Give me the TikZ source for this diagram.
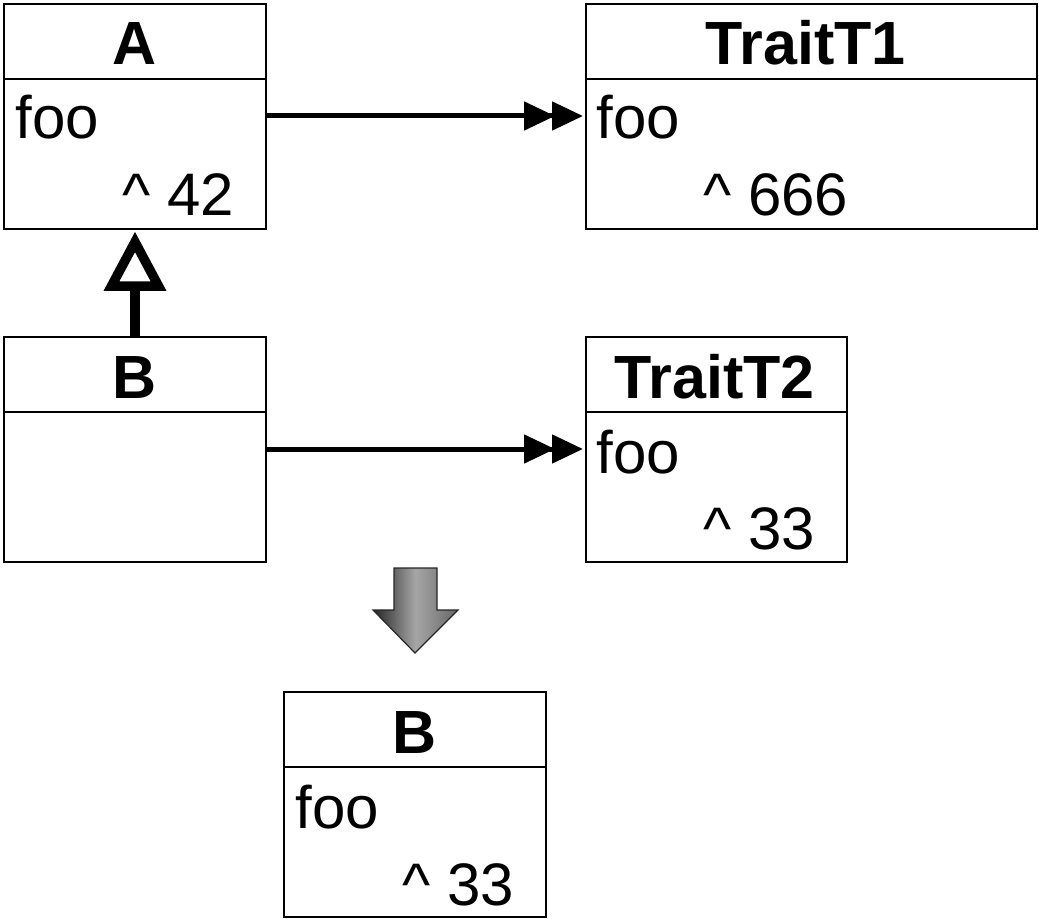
\documentclass[tikz,border=0pt]{standalone}
\usepackage{fontspec}
\setmainfont{Liberation Sans}
\usetikzlibrary{calc,arrows.meta}
\begin{document}
\begin{tikzpicture}[x=0.5pt,y=-0.5pt,
  cls/.style={draw, line width=0.8pt, inner sep=0pt, outer sep=0pt, minimum height=112.5pt, anchor=north west},
  divider/.style={line width=0.8pt},
  ttl/.style={font=\fontsize{30.5}{36}\selectfont\bfseries, inner sep=0pt, anchor=base},
  txt/.style={font=\fontsize{30}{36}\selectfont, inner sep=0pt, anchor=base west},
  assoc/.style={line width=2.5pt, -{Triangle[length=15.5pt,width=14pt,sep=-1.5pt]Triangle[length=15.5pt,width=14pt]}, shorten >=1.5pt},
  inherit/.style={line width=5pt},
  inhtip/.style={line width=4.75pt, line join=miter, fill=white},
  bigarrow/.style={draw=black!85, line width=0.6pt, line join=miter, left color=black!85, right color=black!60, middle color=black!35}]
\useasboundingbox (0,0) rectangle (1039,920);

% class A
\node[cls, minimum width=131pt] (A) at (4,4) {};
\draw[divider] ($(A.north west)+(0,75)$) -- ($(A.north east)+(0,75)$);
\node[ttl] (At) at ($(A.north)+(0,61)$) {A};
\node[txt] (Af) at ($(A.north west)+(11,135)$) {foo};
\node[txt] (Av) at ($(A.north west)+(118,211)$) {\textasciicircum{} 42};

% TraitT1
\node[cls, minimum width=225.5pt] (T1) at (586,4) {};
\draw[divider] ($(T1.north west)+(0,75)$) -- ($(T1.north east)+(0,75)$);
\node[ttl] (T1t) at ($(T1.north)+(-6,61)$) {TraitT1};
\node[txt] (T1f) at ($(T1.north west)+(10,135)$) {foo};
\node[txt] (T1v) at ($(T1.north west)+(117,211)$) {\textasciicircum{} 666};

% class B
\node[cls, minimum width=131pt] (B) at (4,337) {};
\draw[divider] ($(B.north west)+(0,75)$) -- ($(B.north east)+(0,75)$);
\node[ttl] (Bt) at ($(B.north)+(0,61)$) {B};

% TraitT2
\node[cls, minimum width=130.5pt] (T2) at (586,337) {};
\draw[divider] ($(T2.north west)+(0,75)$) -- ($(T2.north east)+(0,75)$);
\node[ttl] (T2t) at ($(T2.north)+(-2,61)$) {TraitT2};
\node[txt] (T2f) at ($(T2.north west)+(10,136)$) {foo};
\node[txt] (T2v) at ($(T2.north west)+(117,212)$) {\textasciicircum{} 33};

% resulting B
\node[cls, minimum width=131pt] (R) at (284,692) {};
\draw[divider] ($(R.north west)+(0,75)$) -- ($(R.north east)+(0,75)$);
\node[ttl] (Rt) at ($(R.north)+(0,61)$) {B};
\node[txt] (Rf) at ($(R.north west)+(11,136)$) {foo};
\node[txt] (Rv) at ($(R.north west)+(118,213)$) {\textasciicircum{} 33};

% associations
\draw[assoc] ($(A.north east)+(0,112)$) -- ($(T1.north west)+(0,112)$);
\draw[assoc] ($(B.north east)+(0,112)$) -- ($(T2.north west)+(0,112)$);

% inheritance B -> A
\coordinate (tribase) at ($(A.south)+(0,57)$);
\draw[inherit] (B.north) -- (tribase);
\draw[inhtip] ($(A.south)+(0,13)$) -- ($(A.south)+(-23.5,57)$) -- ($(A.south)+(23.5,57)$) -- cycle;

% transformation arrow
\path[bigarrow] (394,568) -- (437,568) -- (437,610) -- (458,610) -- (415,653) -- (373,610) -- (394,610) -- cycle;
\end{tikzpicture}
\end{document}
